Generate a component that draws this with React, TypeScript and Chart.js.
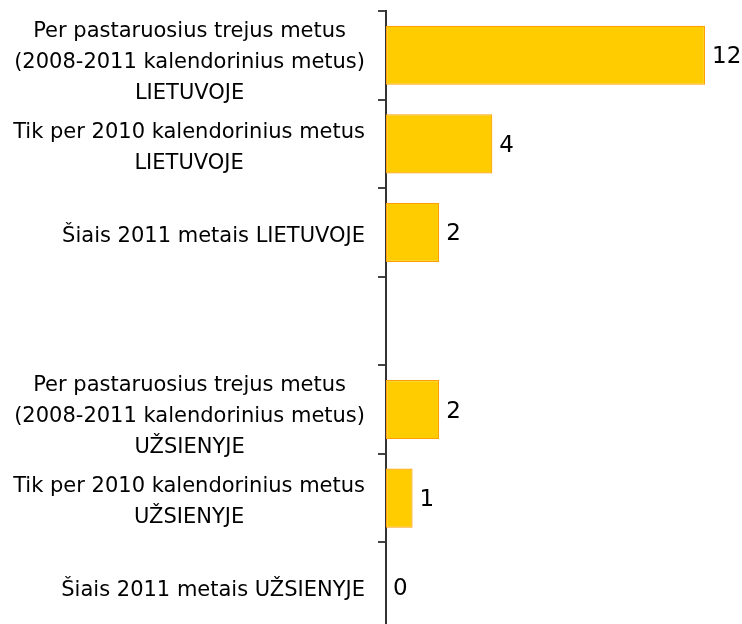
import React, { useEffect, useRef } from "react";
import { Chart, registerables } from "chart.js";

Chart.register(...registerables);

const categories: string[][] = [
  ["Per pastaruosius trejus metus", "(2008-2011 kalendorinius metus)", "LIETUVOJE"],
  ["Tik per 2010 kalendorinius metus", "LIETUVOJE"],
  ["Šiais 2011 metais LIETUVOJE"],
  [""],
  ["Per pastaruosius trejus metus", "(2008-2011 kalendorinius metus)", "UŽSIENYJE"],
  ["Tik per 2010 kalendorinius metus", "UŽSIENYJE"],
  ["Šiais 2011 metais UŽSIENYJE"],
];

const values: (number | null)[] = [12, 4, 2, null, 2, 1, 0];

const FONT = "DejaVu Sans";

const labelsPlugin = {
  id: "customLabels",
  afterDraw(chart: any) {
    const ctx = chart.ctx;
    const y = chart.scales.y;
    const x = chart.scales.x;
    const area = chart.chartArea;
    ctx.save();
    ctx.fillStyle = "#000";
    ctx.textBaseline = "middle";
    ctx.font = `21px "${FONT}"`;
    const lineH = 31;
    categories.forEach((lines, i) => {
      const cy = y.getPixelForValue(i) + (lines.length === 3 ? 7 : 4);
      const widths = lines.map((l) => ctx.measureText(l).width);
      const maxW = Math.max(...widths);
      const right = area.left - 21;
      const cx = right - maxW / 2;
      ctx.textAlign = "center";
      const top = cy - ((lines.length - 1) * lineH) / 2;
      lines.forEach((l, k) => ctx.fillText(l, cx, top + k * lineH));
    });
    ctx.font = `23px "${FONT}"`;
    ctx.textAlign = "left";
    values.forEach((v, i) => {
      if (v === null) return;
      const px = x.getPixelForValue(v);
      const py = y.getPixelForValue(i) + 2;
      ctx.fillText(String(v), px + 7, py);
    });
    ctx.restore();
  },
};

export default function App() {
  const ref = useRef<HTMLCanvasElement>(null);
  useEffect(() => {
    if (!ref.current) return;
    const chart = new Chart(ref.current, {
      type: "bar",
      data: {
        labels: categories.map((c) => c.join(" ")),
        datasets: [
          {
            data: values as any,
            backgroundColor: "#FFCC00",
            borderColor: "#FFA000",
            borderWidth: 1.2,
            borderSkipped: false,
            categoryPercentage: 1,
            barPercentage: 0.667,
          },
        ],
      },
      options: {
        indexAxis: "y",
        animation: false,
        responsive: false,
        maintainAspectRatio: false,
        layout: { padding: { top: 11, right: 37, bottom: 9, left: 0 } },
        plugins: { legend: { display: false }, tooltip: { enabled: false } },
        scales: {
          x: { display: false, min: 0, max: 12 },
          y: {
            afterFit: (s: any) => {
              s.width = 386;
            },
            ticks: { display: false },
            grid: {
              offset: true,
              drawOnChartArea: false,
              tickLength: 8,
              color: "#444",
              lineWidth: 2,
            },
            border: { display: true, color: "#333", width: 2 },
          },
        },
      },
      plugins: [labelsPlugin],
    });
    return () => chart.destroy();
  }, []);
  return (
    <div style={{ position: "absolute", left: 0, top: 0, width: 742, height: 640 }}>
      <canvas ref={ref} width={742} height={640} style={{ display: "block" }} />
    </div>
  );
}
